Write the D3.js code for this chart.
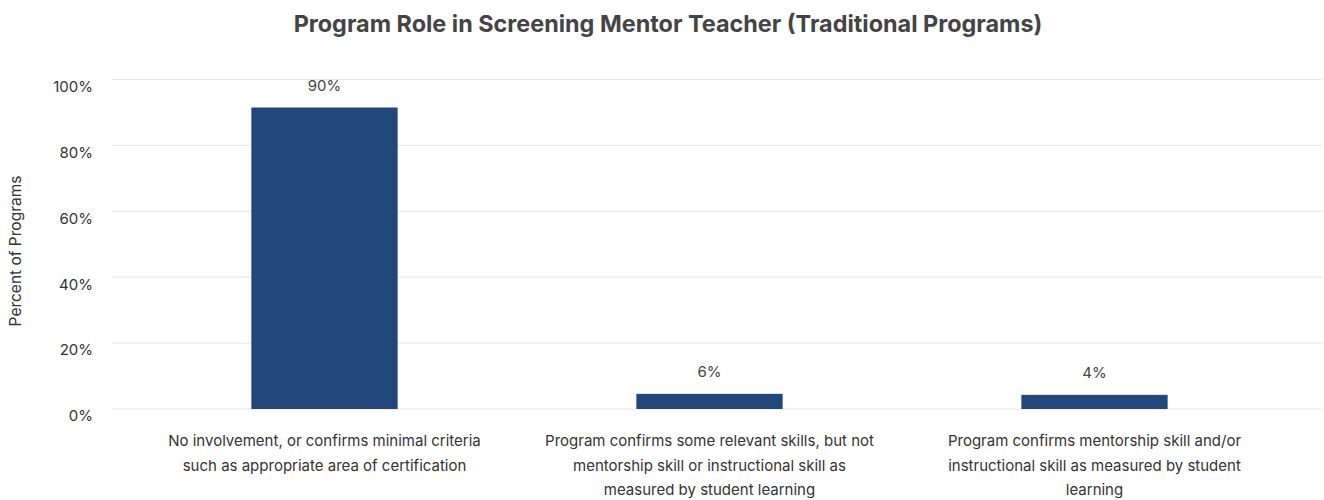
<!DOCTYPE html>
<html>
<head>
<meta charset="utf-8">
<script src="https://cdn.jsdelivr.net/npm/d3@7"></script>
<style>
  body { margin: 0; background: #fff; }
  text { font-family: Inter, "Noto Sans", sans-serif; }
</style>
</head>
<body>
<div id="chart"></div>
<script>
const categories = [
  'No involvement, or confirms minimal criteria such as appropriate area of certification',
  'Program confirms some relevant skills, but not mentorship skill or instructional skill as measured by student learning',
  'Program confirms mentorship skill and/or instructional skill as measured by student learning'
];
const values = [91.5, 4.6, 4.3];
const valueLabels = ['90%', '6%', '4%'];
const yTicks = [0, 20, 40, 60, 80, 100];

const w = 1324;
const h = 500;
const margin = { top: 79.5, right: 2, bottom: 91, left: 112 };

const svg = d3.select('#chart')
  .append('svg')
  .attr('width', w)
  .attr('height', h);

const yScale = d3.scaleLinear()
  .domain([0, 100])
  .range([h - margin.bottom, margin.top]);

const xScale = d3.scaleBand()
  .domain(categories)
  .range([132, 1287])
  .paddingInner(0.62)
  .paddingOuter(0.31);

// title
svg.append('text')
  .attr('x', 668)
  .attr('y', 32)
  .attr('text-anchor', 'middle')
  .attr('font-size', 23.4)
  .attr('font-weight', 700)
  .attr('fill', '#444')
  .text('Program Role in Screening Mentor Teacher (Traditional Programs)');

// gridlines
svg.append('g')
  .selectAll('line')
  .data(yTicks)
  .enter()
  .append('line')
  .attr('x1', margin.left)
  .attr('x2', w - margin.right)
  .attr('y1', d => yScale(d))
  .attr('y2', d => yScale(d))
  .attr('stroke', '#e6e6e6')
  .attr('stroke-width', 1);

// y axis
const yAxis = d3.axisLeft(yScale)
  .tickValues(yTicks)
  .tickFormat(d => d + '%')
  .tickSize(0)
  .tickPadding(0);

const yG = svg.append('g')
  .attr('transform', 'translate(93,7)')
  .call(yAxis);
yG.select('.domain').remove();
yG.selectAll('text')
  .attr('font-size', 15)
  .attr('fill', '#333')
  .attr('font-family', 'Inter, "Noto Sans", sans-serif');

svg.append('text')
  .attr('transform', 'translate(21,251) rotate(-90)')
  .attr('text-anchor', 'middle')
  .attr('font-size', 15.5)
  .attr('fill', '#333')
  .text('Percent of Programs');

// bars
svg.append('g')
  .selectAll('rect')
  .data(values)
  .enter()
  .append('rect')
  .attr('x', (d, i) => xScale(categories[i]))
  .attr('y', d => yScale(d))
  .attr('width', xScale.bandwidth())
  .attr('height', d => yScale(0) - yScale(d))
  .attr('fill', '#23477a');

// value labels
svg.append('g')
  .selectAll('text')
  .data(values)
  .enter()
  .append('text')
  .attr('x', (d, i) => xScale(categories[i]) + xScale.bandwidth() / 2)
  .attr('y', d => yScale(d) - 17)
  .attr('text-anchor', 'middle')
  .attr('font-size', 15)
  .attr('fill', '#444')
  .text((d, i) => valueLabels[i]);

// x category labels, wrapped
const wrapWidth = 335;
const measure = svg.append('text').attr('font-size', 15).attr('visibility', 'hidden');
const wrapLines = (str) => {
  const words = str.split(' ');
  const lines = [];
  let line = '';
  words.forEach(word => {
    const test = line ? line + ' ' + word : word;
    measure.text(test);
    if (measure.node().getComputedTextLength() > wrapWidth && line) {
      lines.push(line);
      line = word;
    } else {
      line = test;
    }
  });
  if (line) lines.push(line);
  return lines;
};

categories.forEach(cat => {
  const t = svg.append('text')
    .attr('text-anchor', 'middle')
    .attr('font-size', 15)
    .attr('fill', '#333');
  wrapLines(cat).forEach((ln, j) => {
    t.append('tspan')
      .attr('x', xScale(cat) + xScale.bandwidth() / 2)
      .attr('y', 446 + j * 24.5)
      .text(ln);
  });
});
measure.remove();
</script>
</body>
</html>
